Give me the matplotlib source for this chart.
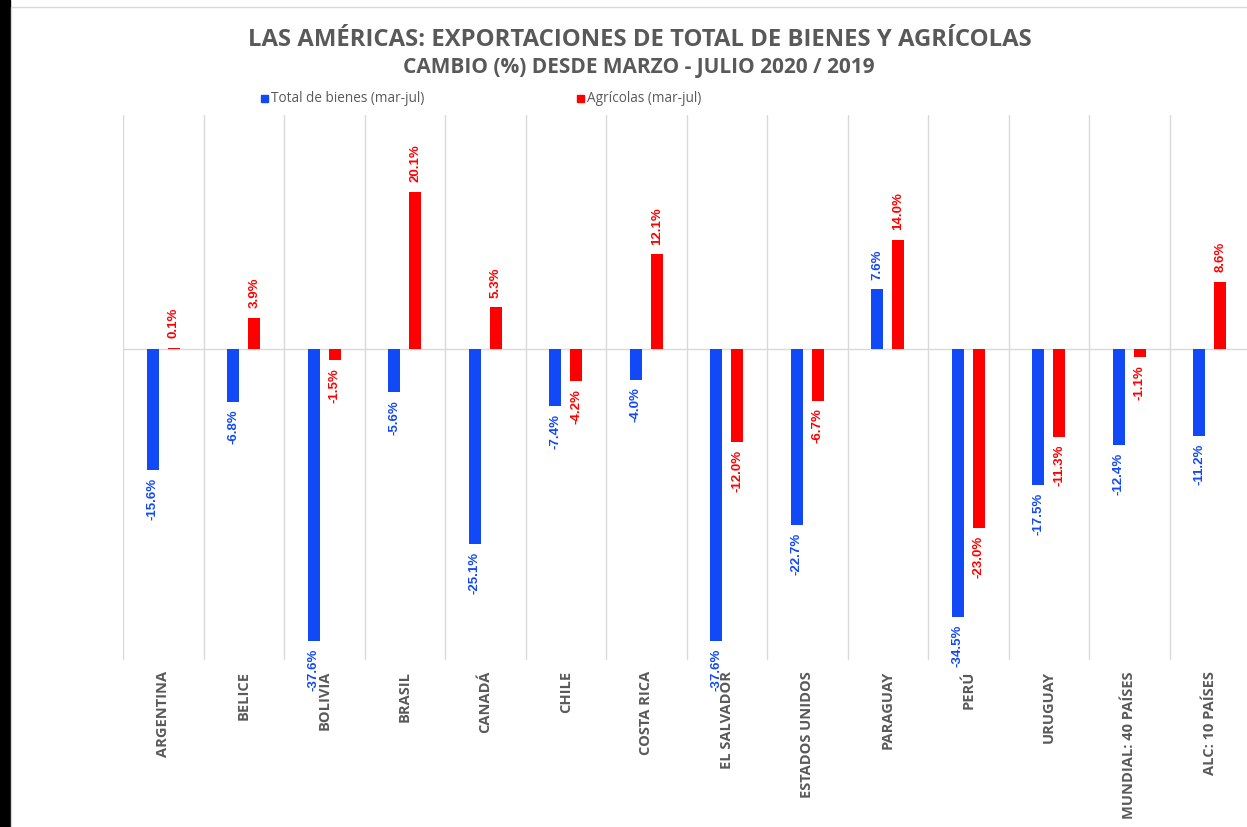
import matplotlib
matplotlib.use("Agg")
import matplotlib.pyplot as plt
import numpy as np
from matplotlib.patches import Rectangle

categories = ["ARGENTINA", "BELICE", "BOLIVIA", "BRASIL", "CANADÁ", "CHILE", "COSTA RICA",
              "EL SALVADOR", "ESTADOS UNIDOS", "PARAGUAY", "PERÚ", "URUGUAY",
              "MUNDIAL: 40 PAÍSES", "ALC: 10 PAÍSES"]
total_bienes = [-15.6, -6.8, -37.6, -5.6, -25.1, -7.4, -4.0, -37.6, -22.7, 7.6, -34.5, -17.5, -12.4, -11.2]
agricolas = [0.1, 3.9, -1.5, 20.1, 5.3, -4.2, 12.1, -12.0, -6.7, 14.0, -23.0, -11.3, -1.1, 8.6]

series_names = ["Total de bienes (mar-jul)", "Agrícolas (mar-jul)"]
BLUE = "#1249F7"
RED = "#FF0000"
GRAY = "#595959"

fig = plt.figure(figsize=(12.47, 8.27), dpi=100)
fig.patches.append(Rectangle((0, 0), 10 / 1247, 1, transform=fig.transFigure, color="black", zorder=-5))
fig.patches.append(Rectangle((11 / 1247, -0.01), 1.0, 1 - 7 / 827 + 0.01, transform=fig.transFigure,
                             facecolor="white", edgecolor="#d9d9d9", lw=1, zorder=-5))

ax = fig.add_axes([123 / 1247, 1 - 660 / 827, 1127 / 1247, 545 / 827])
ax.set_zorder(5)
ax.set_facecolor("none")
x = np.arange(len(categories))
w = 0.15
off = 0.13
ax.bar(x - off, total_bienes, w, color=BLUE, zorder=3)
ax.bar(x + off, agricolas, w, color=RED, zorder=3)
ax.set_xlim(-0.5, len(categories) - 0.5)
ax.set_ylim(-40, 30)
for i in range(len(categories) + 1):
    ax.axvline(i - 0.5, color="#d9d9d9", lw=1, zorder=1)
ax.axhline(0, color="#d9d9d9", lw=1, zorder=2)
for s in ax.spines.values():
    s.set_visible(False)
ax.set_yticks([])
ax.set_xticks(x)
ax.set_xticklabels(categories, rotation=90, fontsize=10.5, fontweight="bold", color=GRAY,
                   family=["Open Sans", "DejaVu Sans"], va="top", ha="center")
ax.tick_params(axis="x", length=0, pad=8)

lab_font = dict(fontsize=9.5, fontweight="bold", rotation=90, ha="center",
                family=["Liberation Sans Narrow", "Liberation Sans", "DejaVu Sans"])
for vals, sign_off, col in [(total_bienes, -off, BLUE), (agricolas, off, RED)]:
    for xi, v in zip(x, vals):
        txt = f"{v:.1f}%"
        if v >= 0:
            ax.annotate(txt, (xi + sign_off, v), xytext=(0, 7), textcoords="offset points",
                        va="bottom", color=col, annotation_clip=False, **lab_font)
        else:
            ax.annotate(txt, (xi + sign_off, v), xytext=(0, -5.5), textcoords="offset points",
                        va="top", color=col, annotation_clip=False, **lab_font)

fig.text(640 / 1247, 1 - 40 / 827, "LAS AMÉRICAS: EXPORTACIONES DE TOTAL DE BIENES Y AGRÍCOLAS",
         ha="center", va="center", fontsize=17.2, fontweight="bold", color=GRAY,
         family=["Open Sans", "DejaVu Sans"])
fig.text(639 / 1247, 1 - 68 / 827, "CAMBIO (%) DESDE MARZO - JULIO 2020 / 2019",
         ha="center", va="center", fontsize=15, fontweight="bold", color=GRAY,
         family=["Open Sans", "DejaVu Sans"])

fig.patches.append(Rectangle((261 / 1247, 1 - 102 / 827), 7 / 1247, 7 / 827, transform=fig.transFigure, color=BLUE))
fig.text(271 / 1247, 1 - 98 / 827, series_names[0], ha="left", va="center", fontsize=9.8, color=GRAY,
         family=["Open Sans", "DejaVu Sans"])
fig.patches.append(Rectangle((577 / 1247, 1 - 102 / 827), 7 / 1247, 7 / 827, transform=fig.transFigure, color=RED))
fig.text(587 / 1247, 1 - 98 / 827, series_names[1], ha="left", va="center", fontsize=9.8, color=GRAY,
         family=["Open Sans", "DejaVu Sans"])

fig.savefig("out.png", dpi=100)
